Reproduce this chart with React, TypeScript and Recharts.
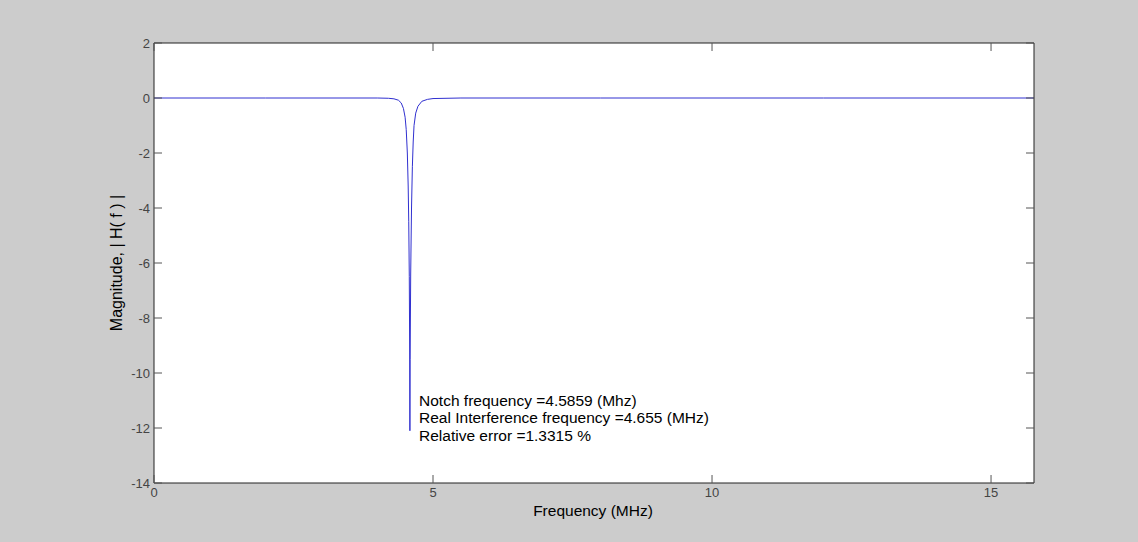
import React from 'react';
import { LineChart, Line, XAxis, YAxis, ReferenceDot, CartesianGrid } from 'recharts';

const frequencyMHz = [0, 2, 4, 4.2, 4.3, 4.38, 4.43, 4.47, 4.5, 4.52, 4.54, 4.555, 4.565, 4.575, 4.582, 4.5859, 4.59, 4.6, 4.615, 4.63, 4.645, 4.66, 4.69, 4.73, 4.8, 4.9, 5.0, 5.5, 8, 12, 15.77];
const magnitude = [0, 0, 0, -0.01, -0.03, -0.08, -0.18, -0.38, -0.7, -1.15, -2.0, -3.2, -4.5, -6.5, -9.2, -12.1, -9.5, -6.4, -4.0, -2.5, -1.6, -1.0, -0.55, -0.3, -0.12, -0.05, -0.02, 0, 0, 0, 0];
const xTicks = [0, 5, 10, 15];
const yTicks = [-14, -12, -10, -8, -6, -4, -2, 0, 2];
const annotationLines = [
  'Notch frequency =4.5859 (Mhz)',
  'Real Interference frequency =4.655 (MHz)',
  'Relative error =1.3315 %',
];
const annotationAt = { x: 4.75, y: -11.0 };

const data = frequencyMHz.map((f, i) => ({ f, m: magnitude[i] }));

const FONT = '"Liberation Sans", Arial, sans-serif';
const TICK_LEN = 8;

const BottomTick = (props: any) => {
  const { x, y, payload } = props;
  return (
    <g>
      <line x1={x} y1={y} x2={x} y2={y - TICK_LEN} stroke="#555" strokeWidth={1} />
      <text x={x} y={y + 14} textAnchor="middle" fontSize={13} fill="#444" fontFamily={FONT}>
        {payload.value}
      </text>
    </g>
  );
};
const TopTick = (props: any) => {
  const { x, y } = props;
  return <line x1={x} y1={y} x2={x} y2={y + TICK_LEN} stroke="#555" strokeWidth={1} />;
};
const LeftTick = (props: any) => {
  const { x, y, payload } = props;
  return (
    <g>
      <line x1={x} y1={y} x2={x + TICK_LEN} y2={y} stroke="#555" strokeWidth={1} />
      <text x={x - 4} y={y + 5} textAnchor="end" fontSize={13} fill="#444" fontFamily={FONT}>
        {payload.value}
      </text>
    </g>
  );
};
const RightTick = (props: any) => {
  const { x, y } = props;
  return <line x1={x} y1={y} x2={x - TICK_LEN} y2={y} stroke="#555" strokeWidth={1} />;
};

const AnnotationShape = (props: any) => {
  const { cx, cy } = props;
  return (
    <g>
      {annotationLines.map((t, i) => (
        <text key={i} x={cx} y={cy + 5 + i * 17.5} fontSize={15.5} fill="#000" fontFamily={FONT}>
          {t}
        </text>
      ))}
    </g>
  );
};

export default function App() {
  return (
    <div style={{ position: 'absolute', left: 0, top: 0, width: 1138, height: 542, background: '#cccccc', fontFamily: FONT }}>
      <LineChart
        width={1138}
        height={542}
        data={data}
        margin={{ top: 42, right: 103, bottom: 58, left: 153 }}
      >
        <CartesianGrid xAxisId="b" yAxisId="l" horizontal={false} vertical={false} fill="#ffffff" stroke="none" />
        <XAxis
          xAxisId="b"
          dataKey="f"
          type="number"
          domain={[0, 15.77]}
          ticks={xTicks}
          allowDataOverflow
          height={1}
          tickSize={0}
          tickMargin={0}
          tickLine={false}
          axisLine={{ stroke: '#222', strokeWidth: 1 }}
          tick={<BottomTick />}
          interval={0}
        />
        <XAxis
          xAxisId="t"
          orientation="top"
          dataKey="f"
          type="number"
          domain={[0, 15.77]}
          ticks={xTicks}
          allowDataOverflow
          height={1}
          tickSize={0}
          tickMargin={0}
          tickLine={false}
          axisLine={{ stroke: '#222', strokeWidth: 1 }}
          tick={<TopTick />}
          interval={0}
        />
        <YAxis
          yAxisId="l"
          type="number"
          domain={[-14, 2]}
          ticks={yTicks}
          allowDataOverflow
          width={1}
          tickSize={0}
          tickMargin={0}
          tickLine={false}
          axisLine={{ stroke: '#222', strokeWidth: 1 }}
          tick={<LeftTick />}
          interval={0}
        />
        <YAxis
          yAxisId="r"
          orientation="right"
          type="number"
          domain={[-14, 2]}
          ticks={yTicks}
          allowDataOverflow
          width={1}
          tickSize={0}
          tickMargin={0}
          tickLine={false}
          axisLine={{ stroke: '#222', strokeWidth: 1 }}
          tick={<RightTick />}
          interval={0}
        />
        <Line
          xAxisId="t"
          yAxisId="r"
          dataKey="m"
          stroke="none"
          dot={false}
          isAnimationActive={false}
        />
        <Line
          xAxisId="b"
          yAxisId="l"
          type="linear"
          dataKey="m"
          stroke="#3030d0"
          strokeWidth={1}
          dot={false}
          isAnimationActive={false}
        />
        <ReferenceDot
          xAxisId="b"
          yAxisId="l"
          x={annotationAt.x}
          y={annotationAt.y}
          r={0}
          shape={<AnnotationShape />}
        />
      </LineChart>
      <div style={{ position: 'absolute', left: 593, top: 502, transform: 'translateX(-50%)', fontSize: 15.5, color: '#000', whiteSpace: 'nowrap' }}>
        Frequency (MHz)
      </div>
      <div style={{ position: 'absolute', left: 117, top: 263, transform: 'translate(-50%, -50%) rotate(-90deg)', fontSize: 16, color: '#000', whiteSpace: 'nowrap' }}>
        Magnitude, | H( f ) |
      </div>
    </div>
  );
}
